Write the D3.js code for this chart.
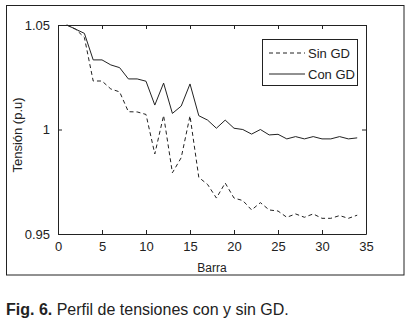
<!doctype html>
<html>
<head>
<meta charset="utf-8">
<style>
  body { margin: 0; background: #fff; }
  svg text { font-family: "Liberation Sans", Arial, sans-serif; fill: #222; }
</style>
</head>
<body>
<svg id="chart"></svg>
<script src="https://cdn.jsdelivr.net/npm/d3@7"></script>
<script>
// bus numbers 1..34
let barras = d3.range(1, 35);

let sinGD = [1.050, 1.048, 1.044, 1.0232, 1.0232, 1.0194, 1.018, 1.0085, 1.0084, 1.0072,
             0.9883, 1.0067, 0.9793, 0.9865, 1.0065, 0.9771, 0.9737, 0.9672, 0.9744, 0.9672,
             0.966, 0.9615, 0.965, 0.9615, 0.961, 0.958, 0.9596, 0.958, 0.9596, 0.9575,
             0.9575, 0.9588, 0.9575, 0.959];

let conGD = [1.050, 1.048, 1.046, 1.0333, 1.0333, 1.0309, 1.0296, 1.0242, 1.0242, 1.0231,
             1.0117, 1.0222, 1.0077, 1.0112, 1.0218, 1.0066, 1.0045, 1.0006, 1.0045, 1.0006,
             1.0000, 0.9978, 1.0000, 0.9974, 0.9977, 0.9955, 0.9966, 0.9955, 0.9966, 0.9955,
             0.9955, 0.9966, 0.9955, 0.9960];

let xTicks = [0, 5, 10, 15, 20, 25, 30, 35];
let yTicks = [0.95, 1, 1.05];

let width = 409,
    height = 322;

let svg = d3.select("#chart")
    .attr("width", width)
    .attr("height", height);

svg.append("rect")
    .attr("width", width).attr("height", height)
    .attr("fill", "#fff");

// outer figure frame
svg.append("rect")
    .attr("x", 6.5).attr("y", 5.5)
    .attr("width", 397.5).attr("height", 269.5)
    .attr("fill", "none")
    .attr("stroke", "#222");

let pLeft = 58, pRight = 366, pTop = 25, pBottom = 234;

let x = d3.scaleLinear().domain([0, 35]).range([pLeft, pRight]);
let y = d3.scaleLinear().domain([0.95, 1.05]).range([pBottom, pTop]);

// axes, ticks pointing inward on all sides
svg.append("g")
    .attr("transform", "translate(0," + pBottom + ")")
    .call(d3.axisBottom(x).tickValues(xTicks).tickSizeInner(-4).tickSizeOuter(0).tickPadding(8))
    .call(g => g.selectAll("text").attr("font-size", 13));

svg.append("g")
    .attr("transform", "translate(0," + pTop + ")")
    .call(d3.axisTop(x).tickValues(xTicks).tickSizeInner(-4).tickSizeOuter(0).tickFormat(""));

svg.append("g")
    .attr("transform", "translate(" + pLeft + ",0)")
    .call(d3.axisLeft(y).tickValues(yTicks).tickSizeInner(-4).tickSizeOuter(0).tickPadding(8)
        .tickFormat(d => d === 1 ? "1" : d3.format(".2f")(d)))
    .call(g => g.selectAll("text").attr("font-size", 13));

svg.append("g")
    .attr("transform", "translate(" + pRight + ",0)")
    .call(d3.axisRight(y).tickValues(yTicks).tickSizeInner(-4).tickSizeOuter(0).tickFormat(""));

svg.selectAll(".domain").attr("stroke", "#222");
svg.selectAll(".tick line").attr("stroke", "#222");
svg.selectAll(".tick text").attr("fill", "#222");

let line = d3.line()
    .x((d, i) => x(barras[i]))
    .y(d => y(d));

svg.append("path")
    .datum(sinGD)
    .attr("d", line)
    .attr("fill", "none")
    .attr("stroke", "#222")
    .attr("stroke-width", 1)
    .attr("stroke-dasharray", "4,3");

svg.append("path")
    .datum(conGD)
    .attr("d", line)
    .attr("fill", "none")
    .attr("stroke", "#222")
    .attr("stroke-width", 1);

// legend
let legend = svg.append("g");
legend.append("rect")
    .attr("x", 262.5).attr("y", 39.5)
    .attr("width", 95).attr("height", 46)
    .attr("fill", "#fff")
    .attr("stroke", "#222");

let entries = [
    {name: "Sin GD", dash: "4,3", y: 53},
    {name: "Con GD", dash: null, y: 74}
];
entries.forEach(e => {
    legend.append("line")
        .attr("x1", 269).attr("x2", 305)
        .attr("y1", e.y).attr("y2", e.y)
        .attr("stroke", "#222")
        .attr("stroke-dasharray", e.dash);
    legend.append("text")
        .attr("x", 308).attr("y", e.y)
        .attr("dy", "0.35em")
        .attr("font-size", 13)
        .text(e.name);
});

// axis titles
svg.append("text")
    .attr("x", (pLeft + pRight) / 2).attr("y", 268)
    .attr("dy", "0.35em")
    .attr("text-anchor", "middle")
    .attr("font-size", 12)
    .text("Barra");

svg.append("text")
    .attr("transform", "translate(17,135) rotate(-90)")
    .attr("dy", "0.35em")
    .attr("text-anchor", "middle")
    .attr("font-size", 13)
    .text("Tensión (p.u)");

// caption
let cap = svg.append("text")
    .attr("x", 6).attr("y", 315)
    .attr("font-size", 16);
cap.append("tspan").attr("font-weight", "bold").text("Fig. 6.");
cap.append("tspan").text(" Perfil de tensiones con y sin GD.");
</script>
</body>
</html>
